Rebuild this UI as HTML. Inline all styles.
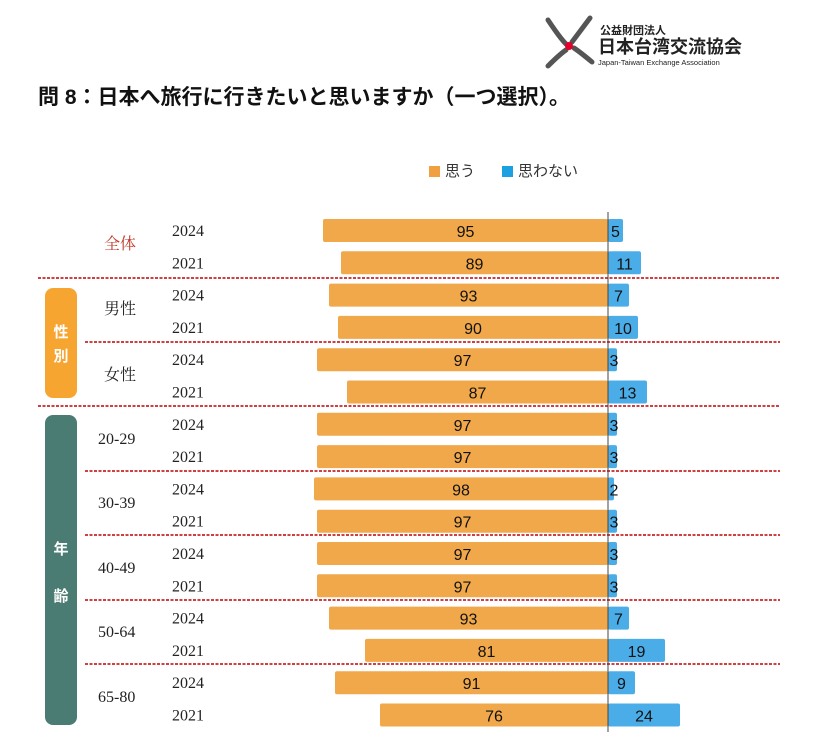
<!DOCTYPE html>
<html><head><meta charset="utf-8"><style>
body{margin:0;background:#fff;}
svg text{font-family:"Liberation Serif","Noto Serif CJK SC",serif;}
.s{font-family:"Liberation Sans","Noto Sans CJK JP",sans-serif !important;}
</style></head><body>
<svg width="817" height="744" viewBox="0 0 817 744" xmlns="http://www.w3.org/2000/svg">
<g stroke="#555" stroke-width="5" stroke-linecap="round" fill="none">
<path d="M548 20 Q560 38 566 44"/><path d="M590 18 Q578 34 572 42"/>
<path d="M548 66 Q560 54 566 50"/><path d="M592 62 Q580 52 574 48"/>
</g>
<circle cx="569" cy="46" r="4" fill="#e4002b"/>
<text x="600" y="34" class="s" font-size="11" font-weight="bold" fill="#222">公益財団法人</text>
<text x="598" y="53" class="s" font-size="18" font-weight="bold" fill="#222">日本台湾交流協会</text>
<text x="598" y="65" class="s" font-size="7.5" fill="#222">Japan-Taiwan Exchange Association</text>
<text x="38" y="104" class="s" font-size="21" fill="#111" font-weight="600">問 8：日本へ旅行に行きたいと思いますか（一つ選択）。</text>
<rect x="429" y="166" width="11" height="11" fill="#F0A040"/>
<text x="445" y="176" class="s" font-size="15" fill="#333">思う</text>
<rect x="502" y="166" width="11" height="11" fill="#1BA1E2"/>
<text x="518" y="176" class="s" font-size="15" fill="#333">思わない</text>
<g stroke="#C00000" stroke-width="1.5" stroke-dasharray="3,1.5">
<line x1="38" y1="278" x2="780" y2="278"/>
<line x1="85" y1="342" x2="780" y2="342"/>
<line x1="38" y1="406" x2="780" y2="406"/>
<line x1="85" y1="471" x2="780" y2="471"/>
<line x1="85" y1="535" x2="780" y2="535"/>
<line x1="85" y1="600" x2="780" y2="600"/>
<line x1="85" y1="664" x2="780" y2="664"/>
</g>
<rect x="45" y="288" width="32" height="110" rx="8" fill="#F7A531"/>
<text x="61" y="337" class="s" font-size="15" fill="#fff" text-anchor="middle" font-weight="bold">性</text>
<text x="61" y="361" class="s" font-size="15" fill="#fff" text-anchor="middle" font-weight="bold">別</text>
<rect x="45" y="415" width="32" height="310" rx="8" fill="#4A7C74"/>
<text x="61" y="554" class="s" font-size="15" fill="#fff" text-anchor="middle" font-weight="bold">年</text>
<text x="61" y="601" class="s" font-size="15" fill="#fff" text-anchor="middle" font-weight="bold">齢</text>
<g font-size="16" fill="#222">
<text x="104" y="249" fill="#C0392B">全体</text>
<text x="104" y="314">男性</text>
<text x="104" y="380">女性</text>
<text x="98" y="444">20-29</text>
<text x="98" y="508">30-39</text>
<text x="98" y="573">40-49</text>
<text x="98" y="637">50-64</text>
<text x="98" y="702">65-80</text>
</g>
<g id="bars"></g>
<line x1="608" y1="212" x2="608" y2="732" stroke="#444" stroke-width="1"/>
</svg>
<script>
var d=[[95,5],[89,11],[93,7],[90,10],[97,3],[87,13],[97,3],[97,3],[98,2],[97,3],[97,3],[97,3],[93,7],[81,19],[91,9],[76,24]];
var g=document.getElementById('bars'),h='';
d.forEach(function(v,i){var c=231+32.3*i,t=c-12,a=v[0]*3,b=v[1]*3;
h+='<text x="172" y="'+(c+5)+'" font-size="16" fill="#222">'+(i%2?'2021':'2024')+'</text>';
h+='<rect x="'+(608-a)+'" y="'+t+'" width="'+a+'" height="23" rx="2" fill="#F0A84B"/>';
h+='<rect x="608" y="'+t+'" width="'+b+'" height="23" rx="2" fill="#4BADE8"/>';
h+='<text class="s" x="'+(608-a/2)+'" y="'+(c+6)+'" font-size="16" text-anchor="middle" fill="#111">'+v[0]+'</text>';
h+='<text class="s" x="'+(Math.max(608+b/2,614))+'" y="'+(c+6)+'" font-size="16" text-anchor="middle" fill="#111">'+v[1]+'</text>';});
g.innerHTML=h;
</script>
</body></html>
